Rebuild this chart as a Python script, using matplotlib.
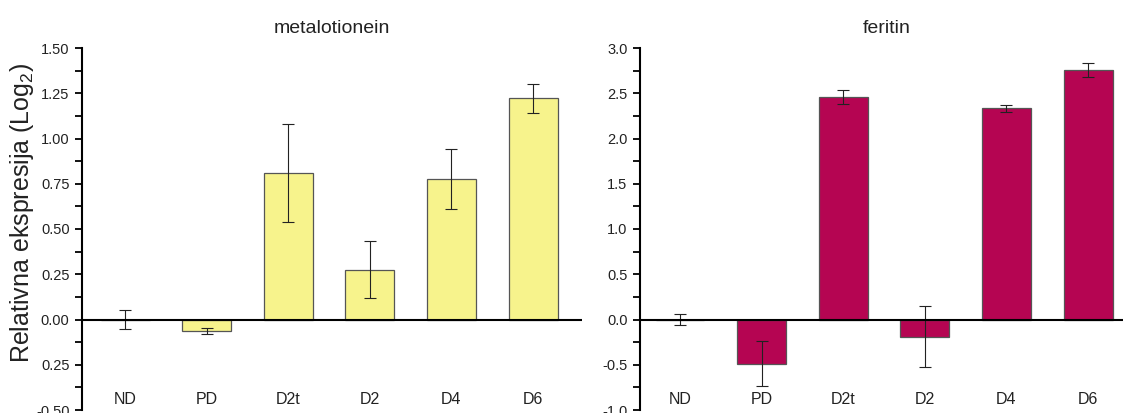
import numpy as np
import matplotlib
matplotlib.use('Agg')
import matplotlib.pyplot as plt
from matplotlib.ticker import MultipleLocator, FixedLocator, FixedFormatter

plt.rcParams['font.family'] = ['Liberation Sans', 'DejaVu Sans']
plt.rcParams['mathtext.fontset'] = 'custom'
plt.rcParams['mathtext.rm'] = 'Liberation Sans'

# data
groups = ['ND', 'PD', 'D2t', 'D2', 'D4', 'D6']
mt_vals = [0.0, -0.063, 0.81, 0.276, 0.775, 1.222]
mt_err = [0.05, 0.018, 0.27, 0.155, 0.165, 0.08]
fer_vals = [0.0, -0.49, 2.46, -0.19, 2.335, 2.76]
fer_err = [0.06, 0.25, 0.075, 0.335, 0.04, 0.075]

mt_ticks = [-0.50, -0.25, 0.00, 0.25, 0.50, 0.75, 1.00, 1.25, 1.50]
mt_labels = ['-0.50', '0.25', '0.00', '0.25', '0.50', '0.75', '1.00', '1.25', '1.50']
fer_ticks = [-1.0, -0.5, 0.0, 0.5, 1.0, 1.5, 2.0, 2.5, 3.0]
fer_labels = ['-1.0', '-0.5', '0.0', '0.5', '1.0', '1.5', '2.0', '2.5', '3.0']

W, H = 1123, 413
fig = plt.figure(figsize=(W / 100, H / 100), dpi=100)

ax1 = fig.add_axes([82 / W, 3 / H, 500 / W, 362 / H])
ax2 = fig.add_axes([640 / W, 3 / H, 497 / W, 362 / H])


def draw(ax, vals, errs, color, edge, ticks, labels, ylim, minor, xlim, title, title_x):
    x = np.arange(len(groups))
    ax.bar(x, vals, width=0.6, color=color, edgecolor=edge, linewidth=0.9, zorder=2)
    ax.errorbar(x, vals, yerr=errs, fmt='none', ecolor='#222222', elinewidth=0.8,
                capsize=4, capthick=0.8, zorder=3)
    ax.set_xlim(*xlim)
    ax.set_ylim(*ylim)
    ax.axhline(0, color='black', linewidth=1.5, zorder=4)
    for s in ['top', 'right', 'bottom']:
        ax.spines[s].set_visible(False)
    ax.spines['left'].set_linewidth(1.5)
    ax.set_xticks([])
    ax.yaxis.set_major_locator(FixedLocator(ticks))
    ax.yaxis.set_major_formatter(FixedFormatter(labels))
    ax.yaxis.set_minor_locator(MultipleLocator(minor))
    ax.tick_params(axis='y', which='both', direction='out', length=5, width=1.3,
                   labelsize=10.5, pad=4, labelcolor='#222222')
    for xi, g in zip(x, groups):
        ax.text(xi, 0.028, g, transform=ax.get_xaxis_transform(), ha='center',
                va='center', fontsize=11.5, color='#222222')
    ax.text(title_x, 1.055, title, transform=ax.transAxes, ha='center', va='center',
            fontsize=14, color='#222222')


draw(ax1, mt_vals, mt_err, '#F7F38C', '#555555', mt_ticks, mt_labels,
     (-0.5, 1.5), 0.125, (-0.53, 5.6), 'metalotionein', 0.5)
draw(ax2, fer_vals, fer_err, '#B50552', '#555555', fer_ticks, fer_labels,
     (-1.0, 3.0), 0.25, (-0.49, 5.6), 'feritin', 0.497)

ax1.set_ylabel(r'Relativna ekspresija (Log$_{\mathregular{2}}$)', fontsize=18, color='#222222')
ax1.yaxis.set_label_coords(-0.092, 0.545)

fig.savefig('out.png', dpi=100)
